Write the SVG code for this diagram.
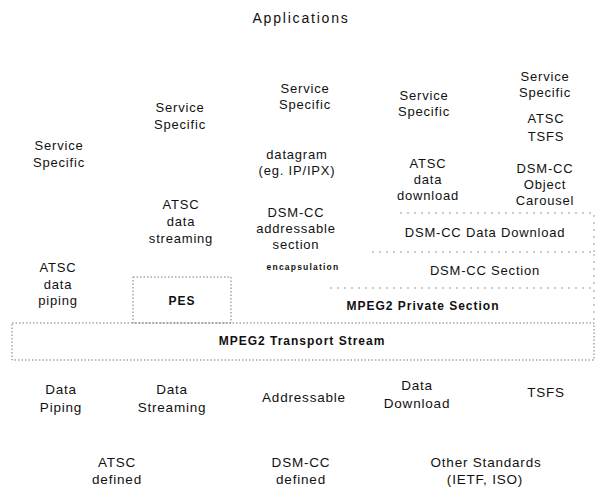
<svg xmlns="http://www.w3.org/2000/svg" width="597" height="488" viewBox="0 0 597 488">
<style>
text{font-family:"Liberation Sans",Arial,sans-serif;fill:#111;text-anchor:middle}
.t{font-size:13px;letter-spacing:0.8px}
.b{font-size:13.5px;letter-spacing:0.8px}
.bold{font-size:12px;font-weight:bold;letter-spacing:1px}
.small{font-size:8.5px;font-weight:bold;letter-spacing:1.2px}
.box{fill:none;stroke:#777;stroke-width:1;stroke-dasharray:1.5 2}
.line{fill:none;stroke:#999;stroke-width:1;stroke-dasharray:2 5}
</style>
<rect width="597" height="488" fill="#fff"/>
<g id="applications"><text x="301" y="23" style="font-size:14px;letter-spacing:1.8px">Applications</text></g>

<g id="col1-service"><text class="t" x="59" y="150">Service</text><text class="t" x="59" y="167">Specific</text></g>
<g id="col1-atsc-piping"><text class="t" x="58" y="272">ATSC</text><text class="t" x="58" y="289">data</text><text class="t" x="58" y="305">piping</text></g>

<g id="col2-service"><text class="t" x="180" y="112">Service</text><text class="t" x="180" y="129">Specific</text></g>
<g id="col2-atsc-streaming"><text class="t" x="181" y="209">ATSC</text><text class="t" x="181" y="226">data</text><text class="t" x="181" y="243">streaming</text></g>

<g id="col3-service"><text class="t" x="305" y="93">Service</text><text class="t" x="305" y="109">Specific</text></g>
<g id="col3-datagram"><text class="t" x="297" y="159">datagram</text><text class="t" x="297" y="175">(eg. IP/IPX)</text></g>
<g id="col3-dsmcc-addressable"><text class="t" x="296" y="217">DSM-CC</text><text class="t" x="296" y="233">addressable</text><text class="t" x="296" y="249">section</text><text class="small" x="303" y="270">encapsulation</text></g>

<g id="col4-service"><text class="t" x="424" y="100">Service</text><text class="t" x="424" y="116">Specific</text></g>
<g id="col4-atsc-download"><text class="t" x="428" y="168">ATSC</text><text class="t" x="428" y="184">data</text><text class="t" x="428" y="200">download</text></g>

<g id="col5-service"><text class="t" x="545" y="81">Service</text><text class="t" x="545" y="97">Specific</text></g>
<g id="col5-atsc-tsfs"><text class="t" x="546" y="123">ATSC</text><text class="t" x="546" y="141">TSFS</text></g>
<g id="col5-object-carousel"><text class="t" x="545" y="173">DSM-CC</text><text class="t" x="545" y="189">Object</text><text class="t" x="545" y="205">Carousel</text></g>

<g id="dsmcc-data-download"><path class="line" d="M400 213 H594 V252"/><text class="t" x="485" y="237">DSM-CC Data Download</text></g>
<g id="dsmcc-section"><path class="line" d="M372 252 H594 V288"/><text class="t" x="485" y="275">DSM-CC Section</text></g>
<g id="mpeg2-private-section"><path class="line" d="M330 288 H594 V323"/><text class="bold" x="423" y="310">MPEG2 Private Section</text></g>
<g id="pes"><rect class="box" x="133" y="277" width="98" height="46"/><text class="bold" x="182" y="305">PES</text></g>
<g id="mpeg2-transport-stream"><rect class="box" x="12" y="323" width="582" height="37"/><text class="bold" x="302" y="345">MPEG2 Transport Stream</text></g>

<g id="data-piping"><text class="b" x="61" y="394">Data</text><text class="b" x="61" y="412">Piping</text></g>
<g id="data-streaming"><text class="b" x="172" y="394">Data</text><text class="b" x="172" y="412">Streaming</text></g>
<g id="addressable"><text class="b" x="304" y="402">Addressable</text></g>
<g id="data-download"><text class="b" x="417" y="390">Data</text><text class="b" x="417" y="408">Download</text></g>
<g id="tsfs"><text class="b" x="546" y="397">TSFS</text></g>

<g id="atsc-defined"><text class="b" x="117" y="467">ATSC</text><text class="b" x="117" y="484">defined</text></g>
<g id="dsmcc-defined"><text class="b" x="301" y="467">DSM-CC</text><text class="b" x="301" y="484">defined</text></g>
<g id="other-standards"><text class="b" x="486" y="467">Other Standards</text><text class="b" x="485" y="484">(IETF, ISO)</text></g>
</svg>
